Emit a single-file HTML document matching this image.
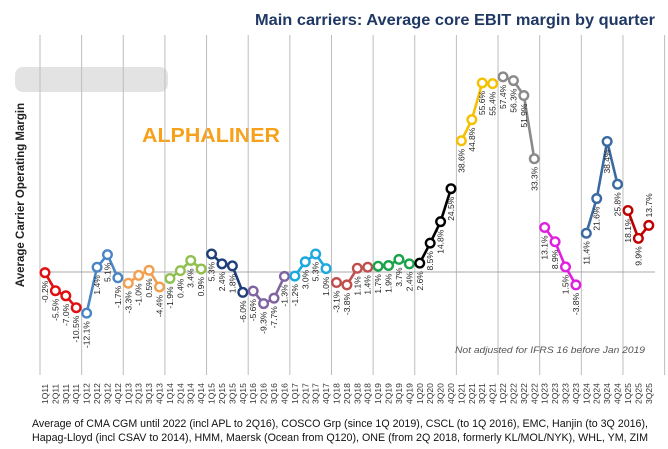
<!DOCTYPE html>
<html><head><meta charset="utf-8"><style>
html,body{margin:0;padding:0;background:#fff;}
svg{display:block;font-family:"Liberation Sans",sans-serif;}
</style></head><body>
<svg id="chart" width="668" height="449" viewBox="0 0 668 449">
<text x="655" y="25" text-anchor="end" font-size="16" font-weight="bold" fill="#1f3864" textLength="400" lengthAdjust="spacingAndGlyphs">Main carriers: Average core EBIT margin by quarter</text>
<rect x="15" y="67" width="153" height="25" rx="8" fill="#dcdcdc" opacity="0.8"/>
<text x="142" y="142" font-size="20" font-weight="bold" fill="#f7a11a" textLength="138" lengthAdjust="spacingAndGlyphs">ALPHALINER</text>
<text transform="translate(24,195) rotate(-90)" text-anchor="middle" font-size="11.5" font-weight="bold" fill="#222">Average Carrier Operating Margin</text>
<g id="grid"></g>
<g id="series"></g>
<g id="xlabels"></g>
<text x="455" y="353" font-size="9" font-style="italic" fill="#555" textLength="190" lengthAdjust="spacingAndGlyphs">Not adjusted for IFRS 16 before Jan 2019</text>
<text x="32" y="427" font-size="11" fill="#111" textLength="616" lengthAdjust="spacingAndGlyphs">Average of CMA CGM until 2022 (incl APL to 2Q16), COSCO Grp (since 1Q 2019), CSCL (to 1Q 2016), EMC, Hanjin (to 3Q 2016),</text>
<text x="32" y="441" font-size="11" fill="#111" textLength="616" lengthAdjust="spacingAndGlyphs">Hapag-Lloyd (incl CSAV to 2014), HMM, Maersk (Ocean from Q120), ONE (from 2Q 2018, formerly KL/MOL/NYK), WHL, YM, ZIM</text>
</svg>
<script>
const years = [2011,2012,2013,2014,2015,2016,2017,2018,2019,2020,2021,2022,2023,2024,2025];
const yearValues = [
 [-0.2,-5.5,-7.0,-10.5],
 [-12.1,1.4,5.1,-1.7],
 [-3.3,-1.0,0.5,-4.4],
 [-1.9,0.4,3.4,0.9],
 [5.3,2.4,1.8,-6.0],
 [-5.6,-9.3,-7.7,-1.3],
 [-1.2,3.0,5.3,1.0],
 [-3.1,-3.8,1.1,1.4],
 [1.7,1.9,3.7,2.4],
 [2.6,8.5,14.8,24.5],
 [38.6,44.8,55.6,55.4],
 [57.4,56.3,51.9,33.3],
 [13.1,8.9,1.5,-3.8],
 [11.4,21.6,38.4,25.8],
 [18.1,9.9,13.7]
];
const yearColors = ['#e01010','#4a86c5','#f0a050','#92c050','#1f3f7a','#8064a2','#1ca8e0','#c0504d','#1aa34a','#000000','#f5c000','#8a8a8a','#e020e0','#3a6aa0','#c00000'];
const NS='http://www.w3.org/2000/svg';
const x0=45, dx=10.41, y0=272, ky=3.4;
const xq = i => x0 + i*dx;
const yv = v => y0 - v*ky;
function mk(tag, attrs, parent){const e=document.createElementNS(NS,tag);for(const k in attrs)e.setAttribute(k,attrs[k]);parent.appendChild(e);return e;}
const grid=document.getElementById('grid'), ser=document.getElementById('series'), xl=document.getElementById('xlabels');
for(let yi=0; yi<=years.length; yi++){
  const gx = xq(yi*4) - 5;
  const l = mk('line',{x1:gx,x2:gx,y1:35,y2:375,stroke:'#bdbdbd','stroke-width':1},grid);
  
  
}
const zl = mk('line',{x1:40,x2:655,y1:y0,y2:y0,stroke:'#a8a8a8','stroke-width':1},grid);


let idx=0;
years.forEach((yr,yi)=>{
  const vals=yearValues[yi], col=yearColors[yi];
  const g=mk('g',{},ser);
  
  
  const pts=vals.map((v,q)=>[xq(idx+q),yv(v)]);
  const pl=mk('polyline',{points:pts.map(p=>p.join(',')).join(' '),fill:'none',stroke:col,'stroke-width':2.6,'stroke-linejoin':'round'},g);
  
  
  vals.forEach((v,q)=>{
    const [px,py]=pts[q];
    const c=mk('circle',{cx:px,cy:py,r:4.3,fill:'#fff',stroke:col,'stroke-width':2.4},g);
    
    
    const lbl=v.toFixed(1)+'%';
    const above = (yr===2025 && q===2);
    const t=mk('text',{transform:above?`translate(${px+3},${py-8}) rotate(-90)`:`translate(${px+3},${py+8}) rotate(-90)`,'text-anchor':above?'start':'end','font-size':8.5,fill:'#222'},g);
    t.textContent=lbl;
    
    
    const tl=mk('text',{transform:`translate(${px+3},404) rotate(-90)`,'text-anchor':'start','font-size':8.5,fill:'#333'},xl);
    tl.textContent=(q+1)+'Q'+String(yr).slice(2);
    
    
  });
  idx+=4;
});
</script>
</body></html>
